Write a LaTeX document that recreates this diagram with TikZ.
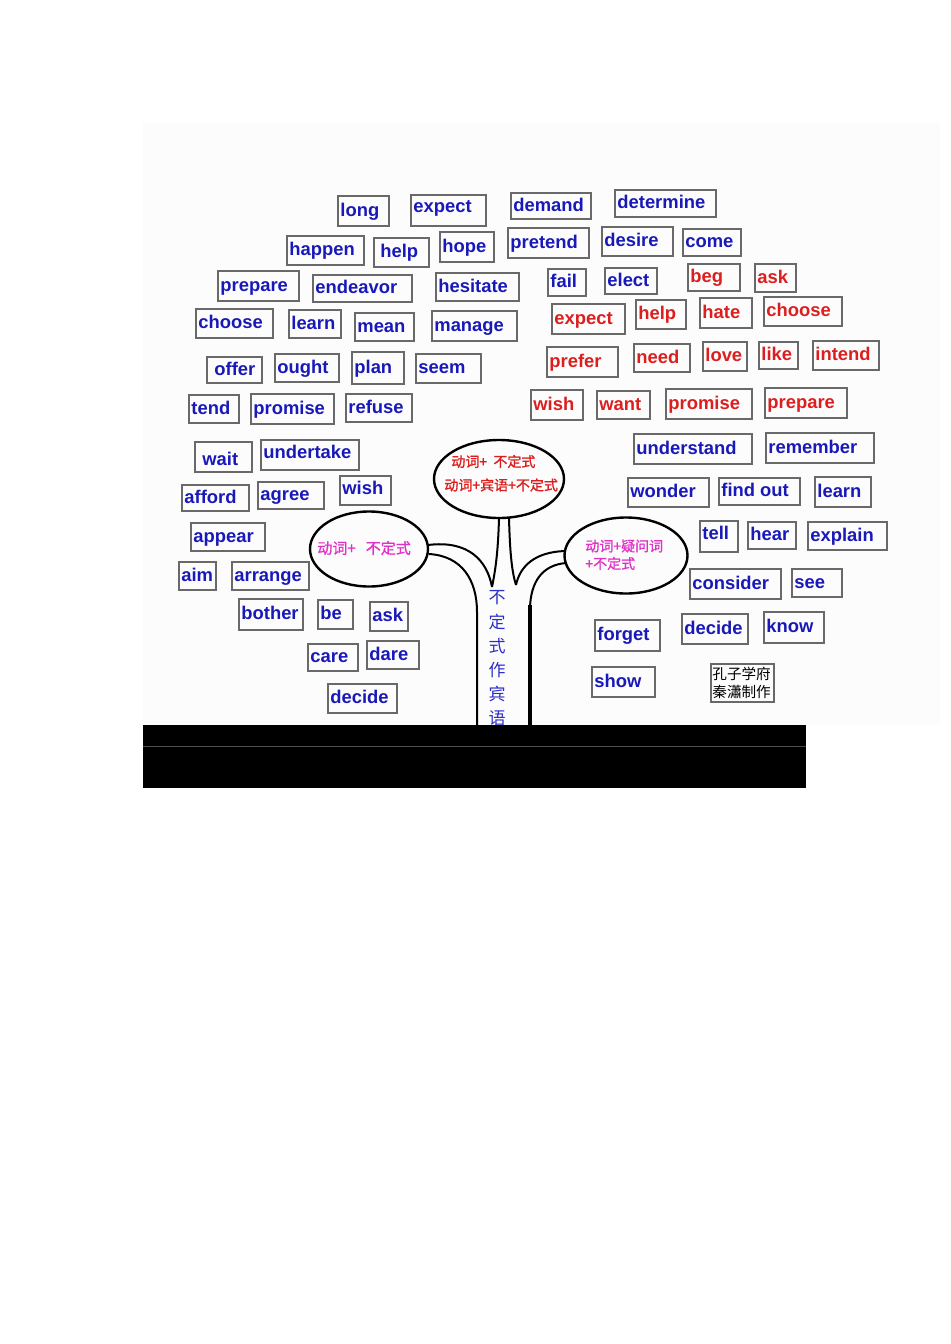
\documentclass[tikz,border=0pt]{standalone}
\usepackage{fontspec}
\setmainfont{Liberation Sans}
\newfontfamily\cjk{Noto Sans CJK SC}
\newfontfamily\cjkb[FakeBold=1.2]{Noto Sans CJK SC}
\usetikzlibrary{shapes.geometric}
\definecolor{wblue}{RGB}{25,25,185}
\definecolor{wred}{RGB}{220,30,30}
\definecolor{wmag}{RGB}{225,50,200}
\definecolor{tblue}{RGB}{45,45,200}
\definecolor{boxgray}{RGB}{105,105,105}
\definecolor{bgpanel}{RGB}{252,252,252}
\tikzset{
  boxline/.style={draw=boxgray, line width=0.8pt},
  word/.style={font=\fontsize{9.2}{11}\selectfont\bfseries, inner sep=0pt, anchor=base west},
  bw/.style={text=wblue},
  rw/.style={text=wred},
  bubble/.style={draw=black, line width=1.2pt, ellipse, inner sep=0pt},
  limb/.style={draw=black, line width=1pt},
  cjkred/.style={text=wred, font=\cjkb\fontsize{7}{8}\selectfont, inner sep=0pt},
  cjkmag/.style={text=wmag, font=\cjkb\fontsize{7}{8}\selectfont, inner sep=0pt},
  trunktxt/.style={text=tblue, font=\cjk\fontsize{8.5}{9}\selectfont, inner sep=0pt},
}
\newcommand\wbox[7][]{%
  \draw[boxline] (#3,#4) rectangle (#5,#6);
  \node[word,#1] (#2) at ({#3+2},{(#4+#6)/2+5}) {#7};}
\begin{document}
\begin{tikzpicture}[x=0.5pt,y=-0.5pt]
\useasboundingbox (0,0) rectangle (950,1344);
\fill[bgpanel] (143,122) rectangle (940,725);
% left / blue words
\wbox{b-long}{338}{196}{389}{226}{\textcolor{wblue}{long}}
\wbox[yshift=1.75pt]{b-expect}{411}{195}{486}{226}{\textcolor{wblue}{expect}}
\wbox{b-demand}{511}{193}{591}{219}{\textcolor{wblue}{demand}}
\wbox{b-determine}{615}{190}{716}{217}{\textcolor{wblue}{determine}}
\wbox{b-happen}{287}{236}{364}{265}{\textcolor{wblue}{happen}}
\wbox[xshift=2pt]{b-help}{374}{238}{429}{267}{\textcolor{wblue}{help}}
\wbox{b-hope}{440}{232}{494}{262}{\textcolor{wblue}{hope}}
\wbox{b-pretend}{508}{228}{589}{258}{\textcolor{wblue}{pretend}}
\wbox{b-desire}{602}{227}{673}{256}{\textcolor{wblue}{desire}}
\wbox{b-come}{683}{229}{741}{256}{\textcolor{wblue}{come}}
\wbox{b-prepare}{218}{271}{299}{301}{\textcolor{wblue}{prepare}}
\wbox{b-endeavor}{313}{275}{412}{302}{\textcolor{wblue}{endeavor}}
\wbox{b-hesitate}{436}{273}{519}{301}{\textcolor{wblue}{hesitate}}
\wbox{b-fail}{548}{269}{586}{296}{\textcolor{wblue}{fail}}
\wbox{b-elect}{605}{268}{657}{294}{\textcolor{wblue}{elect}}
\wbox{b-choose}{196}{309}{273}{338}{\textcolor{wblue}{choose}}
\wbox{b-learn}{289}{310}{341}{338}{\textcolor{wblue}{learn}}
\wbox{b-mean}{355}{313}{414}{341}{\textcolor{wblue}{mean}}
\wbox{b-manage}{432}{311}{517}{341}{\textcolor{wblue}{manage}}
\wbox[xshift=2.5pt]{b-offer}{207}{357}{262}{383}{\textcolor{wblue}{offer}}
\wbox{b-ought}{275}{354}{339}{382}{\textcolor{wblue}{ought}}
\wbox{b-plan}{352}{352}{404}{384}{\textcolor{wblue}{plan}}
\wbox{b-seem}{416}{354}{481}{383}{\textcolor{wblue}{seem}}
\wbox{b-tend}{189}{395}{239}{423}{\textcolor{wblue}{tend}}
\wbox{b-promise}{251}{394}{334}{424}{\textcolor{wblue}{promise}}
\wbox{b-refuse}{346}{394}{412}{422}{\textcolor{wblue}{refuse}}
\wbox[xshift=2.5pt,yshift=-1.5pt]{b-wait}{195}{442}{252}{472}{\textcolor{wblue}{wait}}
\wbox[yshift=1pt]{b-undertake}{261}{440}{359}{470}{\textcolor{wblue}{undertake}}
\wbox{b-afford}{182}{485}{249}{511}{\textcolor{wblue}{afford}}
\wbox{b-agree}{258}{482}{324}{509}{\textcolor{wblue}{agree}}
\wbox[yshift=0.75pt]{b-wish}{340}{476}{391}{505}{\textcolor{wblue}{wish}}
\wbox{b-appear}{191}{523}{265}{551}{\textcolor{wblue}{appear}}
\wbox{b-aim}{179}{562}{216}{590}{\textcolor{wblue}{aim}}
\wbox{b-arrange}{232}{562}{309}{590}{\textcolor{wblue}{arrange}}
\wbox{b-bother}{239}{599}{303}{630}{\textcolor{wblue}{bother}}
\wbox{b-be}{318}{600}{353}{629}{\textcolor{wblue}{be}}
\wbox{b-ask}{370}{602}{408}{631}{\textcolor{wblue}{ask}}
\wbox{b-care}{308}{644}{358}{671}{\textcolor{wblue}{care}}
\wbox{b-dare}{367}{641}{419}{669}{\textcolor{wblue}{dare}}
\wbox{b-decide}{328}{684}{397}{713}{\textcolor{wblue}{decide}}
% red words
\wbox{r-beg}{688}{264}{740}{291}{\textcolor{wred}{beg}}
\wbox{r-ask}{755}{264}{796}{292}{\textcolor{wred}{ask}}
\wbox{r-expect}{552}{304}{625}{334}{\textcolor{wred}{expect}}
\wbox{r-help}{636}{300}{686}{329}{\textcolor{wred}{help}}
\wbox{r-hate}{700}{298}{752}{328}{\textcolor{wred}{hate}}
\wbox{r-choose}{764}{297}{842}{326}{\textcolor{wred}{choose}}
\wbox{r-prefer}{547}{347}{618}{377}{\textcolor{wred}{prefer}}
\wbox{r-need}{634}{344}{690}{372}{\textcolor{wred}{need}}
\wbox{r-love}{703}{342}{747}{371}{\textcolor{wred}{love}}
\wbox{r-like}{759}{342}{798}{369}{\textcolor{wred}{like}}
\wbox{r-intend}{813}{341}{879}{370}{\textcolor{wred}{intend}}
\wbox{r-wish}{531}{390}{583}{420}{\textcolor{wred}{wish}}
\wbox{r-want}{597}{391}{650}{419}{\textcolor{wred}{want}}
\wbox{r-promise}{666}{389}{752}{419}{\textcolor{wred}{promise}}
\wbox{r-prepare}{765}{388}{847}{418}{\textcolor{wred}{prepare}}
% right blue words
\wbox{b-understand}{634}{434}{752}{464}{\textcolor{wblue}{understand}}
\wbox{b-remember}{766}{433}{874}{463}{\textcolor{wblue}{remember}}
\wbox{b-wonder}{628}{478}{709}{507}{\textcolor{wblue}{wonder}}
\wbox{b-findout}{719}{478}{800}{505}{\textcolor{wblue}{find out}}
\wbox{b-learn2}{815}{477}{871}{507}{\textcolor{wblue}{learn}}
\wbox[yshift=1pt]{b-tell}{700}{521}{738}{552}{\textcolor{wblue}{tell}}
\wbox{b-hear}{748}{522}{796}{549}{\textcolor{wblue}{hear}}
\wbox{b-explain}{808}{522}{887}{550}{\textcolor{wblue}{explain}}
\wbox{b-consider}{690}{569}{781}{599}{\textcolor{wblue}{consider}}
\wbox{b-see}{792}{569}{842}{597}{\textcolor{wblue}{see}}
\wbox{b-forget}{595}{620}{660}{651}{\textcolor{wblue}{forget}}
\wbox{b-decide2}{682}{614}{748}{644}{\textcolor{wblue}{decide}}
\wbox{b-know}{764}{612}{824}{643}{\textcolor{wblue}{know}}
\wbox{b-show}{592}{667}{655}{697}{\textcolor{wblue}{show}}
% credit box
\draw[boxline] (711,664) rectangle (774,702);
\node[inner sep=0pt, anchor=west, font=\cjk\fontsize{7.3}{8}\selectfont] (credit1) at (712,674) {孔子学府};
\node[inner sep=0pt, anchor=west, font=\cjk\fontsize{7.3}{8}\selectfont] (credit2) at (712,692) {秦瀟制作};
% bubbles
\node[bubble, minimum width=59pt, minimum height=37.5pt] (eL) at (369,549) {};
\node[bubble, minimum width=65pt, minimum height=39pt] (eT) at (499,479) {};
\node[bubble, minimum width=61.5pt, minimum height=38pt] (eR) at (626,555.5) {};
\node[cjkred, anchor=west] (tT1) at (451,461.5) {动词+~~不定式};
\node[cjkred, anchor=west] (tT2) at (444,485) {动词+宾语+不定式};
\node[cjkmag, anchor=west, font=\cjkb\fontsize{7.5}{8}\selectfont] (tL) at (317,548) {动词+~~~不定式};
\node[cjkmag, anchor=west] (tR1) at (585,546) {动词+疑问词};
\node[cjkmag, anchor=west] (tR2) at (585,563.5) {+不定式};
% tree limbs
\coordinate (crotchL) at (492,587);
\coordinate (crotchR) at (516,585);
\draw[limb] (499,518) .. controls (498,555) and (495,572) .. (crotchL);
\draw[limb] (509,518) .. controls (510,555) and (512,572) .. (crotchR);
\draw[limb] (428,545) .. controls (468,540) and (487,560) .. (crotchL);
\draw[limb] (429,554) .. controls (462,556) and (477,580) .. (477,612) -- (477,725);
\draw[limb] (565,551) .. controls (535,552) and (520,566) .. (crotchR);
\draw[limb] (566,563) .. controls (542,565) and (531,582) .. (530,607);
\draw[black, line width=1.6pt] (530,605) -- (530,725);
% trunk text
\foreach \ch [count=\i] in {不,定,式,作,宾,语}
  \node[trunktxt] (trunk\i) at (497,{574+24*\i}) {\ch};
% black bar
\fill[black] (143,725) rectangle (806,788);
\draw[black!70, line width=0.5pt] (143,746) -- (806,746);
\end{tikzpicture}
\end{document}
